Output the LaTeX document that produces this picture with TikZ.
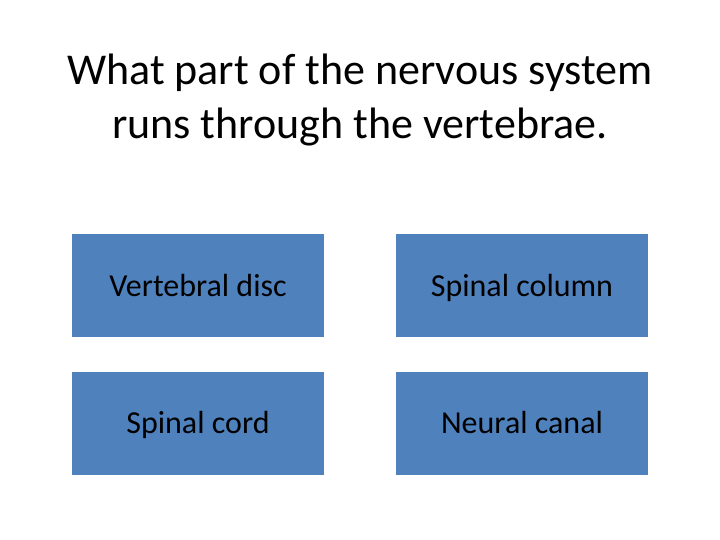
\documentclass[tikz,border=0pt]{standalone}
\usepackage{fontspec}
\setmainfont{Carlito}
\usetikzlibrary{positioning}
\definecolor{slideblue}{HTML}{4F81BD}

\begin{document}
\begin{tikzpicture}[x=1pt, y=-1pt,
  answer box/.style={rectangle, fill=slideblue, minimum width=252pt, minimum height=103pt, inner sep=0pt, text height=28pt, text depth=7pt, font=\fontsize{32}{38}\selectfont},
  title line/.style={anchor=base, inner sep=0pt, font=\fontsize{44}{53}\selectfont}]

\useasboundingbox (0,0) rectangle (720,540);

\node[title line](t1) at (360,85) {What part of the nervous system};
\node[title line](t2) at (360,139) {runs through the vertebrae.};

\node[answer box](a) at (198,285.5) {Vertebral disc};
\node[answer box](b) at (522,285.5) {Spinal column};
\node[answer box](c) at (198,423) {Spinal cord};
\node[answer box](d) at (522,423) {Neural canal};

\end{tikzpicture}
\end{document}
